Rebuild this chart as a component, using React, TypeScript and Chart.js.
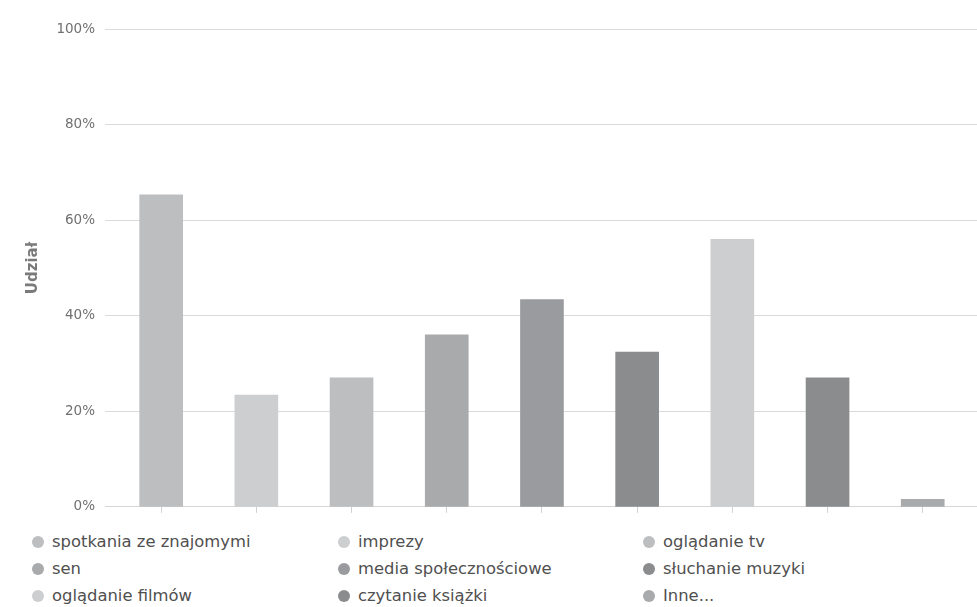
import React, { useEffect, useRef } from "react";
import { Chart, registerables } from "chart.js";

Chart.register(...registerables);

// Activities and their share of answers (percent)
const categories = [
  "spotkania ze znajomymi",
  "imprezy",
  "oglądanie tv",
  "sen",
  "media społecznościowe",
  "słuchanie muzyki",
  "oglądanie filmów",
  "czytanie książki",
  "Inne...",
];
const shares = [65.3, 23.4, 27.0, 36.0, 43.4, 32.4, 56.0, 27.0, 1.6];
const barColors = [
  "#bdbec0",
  "#cdced0",
  "#bdbec0",
  "#a9aaac",
  "#9a9b9e",
  "#8b8c8e",
  "#cdced0",
  "#8b8c8e",
  "#a9aaac",
];
const yTicks = [0, 20, 40, 60, 80, 100];
const yTitle = "Udział";

const FONT = "'DejaVu Sans', Verdana, sans-serif";

export default function App() {
  const canvasRef = useRef<HTMLCanvasElement | null>(null);

  useEffect(() => {
    if (!canvasRef.current) return;
    const chart = new Chart(canvasRef.current, {
      type: "bar",
      data: {
        datasets: [
          {
            label: yTitle,
            data: shares.map((v, i) => ({ x: i, y: v })),
            backgroundColor: barColors,
            borderWidth: 0,
            barThickness: 43,
          },
        ],
      },
      options: {
        responsive: false,
        animation: false,
        layout: { padding: { top: 29, bottom: 7, left: 0, right: 0 } },
        plugins: {
          legend: { display: false },
          tooltip: { enabled: false },
        },
        scales: {
          x: {
            type: "linear",
            offset: false,
            min: -0.59,
            max: 8.57,
            afterBuildTicks: (s: any) => {
              s.ticks = categories.map((_, i) => ({ value: i }));
            },
            afterFit: (s: any) => {
              s.height = 10;
            },
            ticks: { display: false },
            grid: {
              offset: false,
              drawOnChartArea: false,
              drawTicks: true,
              tickLength: 6,
              color: "#d2d2d2",
            },
            border: { display: true, color: "#d6d6d6" },
          },
          y: {
            min: 0,
            max: 100,
            afterBuildTicks: (s: any) => {
              s.ticks = yTicks.map((v) => ({ value: v }));
            },
            afterFit: (s: any) => {
              s.width = 105;
            },
            ticks: {
              callback: (v: any) => v + "%",
              color: "#707070",
              font: { family: FONT, size: 13.5 },
              padding: 10,
            },
            grid: { color: "#dadada", drawTicks: false },
            border: { display: false },
            title: {
              display: true,
              text: yTitle,
              color: "#7a7a7a",
              font: { family: FONT, size: 15, weight: "bold" },
              padding: { top: 24, bottom: 0 },
            },
          },
        },
      },
    });
    return () => chart.destroy();
  }, []);

  const rows: number[][] = [];
  for (let i = 0; i < categories.length; i += 3) {
    rows.push([i, i + 1, i + 2].filter((k) => k < categories.length));
  }
  const colLeft = [38, 344, 649];

  return (
    <div
      style={{
        position: "absolute",
        left: 0,
        top: 0,
        width: 977,
        height: 607,
        background: "#ffffff",
        overflow: "hidden",
      }}
    >
      <canvas
        ref={canvasRef}
        width={977}
        height={525}
        style={{ position: "absolute", left: 0, top: 0, width: 977, height: 525 }}
      />
      <div style={{ position: "absolute", left: 0, top: 528, width: 977 }}>
        {rows.map((row, r) => (
          <div key={r} style={{ position: "relative", height: 27 }}>
            {row.map((k, c) => (
              <div
                key={k}
                style={{
                  position: "absolute",
                  left: colLeft[c] - 6,
                  top: 0,
                  height: 27,
                  display: "flex",
                  alignItems: "center",
                  fontFamily: FONT,
                  fontSize: 16.4,
                  color: "#505050",
                  whiteSpace: "nowrap",
                }}
              >
                <span
                  style={{
                    display: "inline-block",
                    width: 12,
                    height: 12,
                    borderRadius: "50%",
                    background: barColors[k],
                    marginRight: 8,
                  }}
                />
                <span>{categories[k]}</span>
              </div>
            ))}
          </div>
        ))}
      </div>
    </div>
  );
}
